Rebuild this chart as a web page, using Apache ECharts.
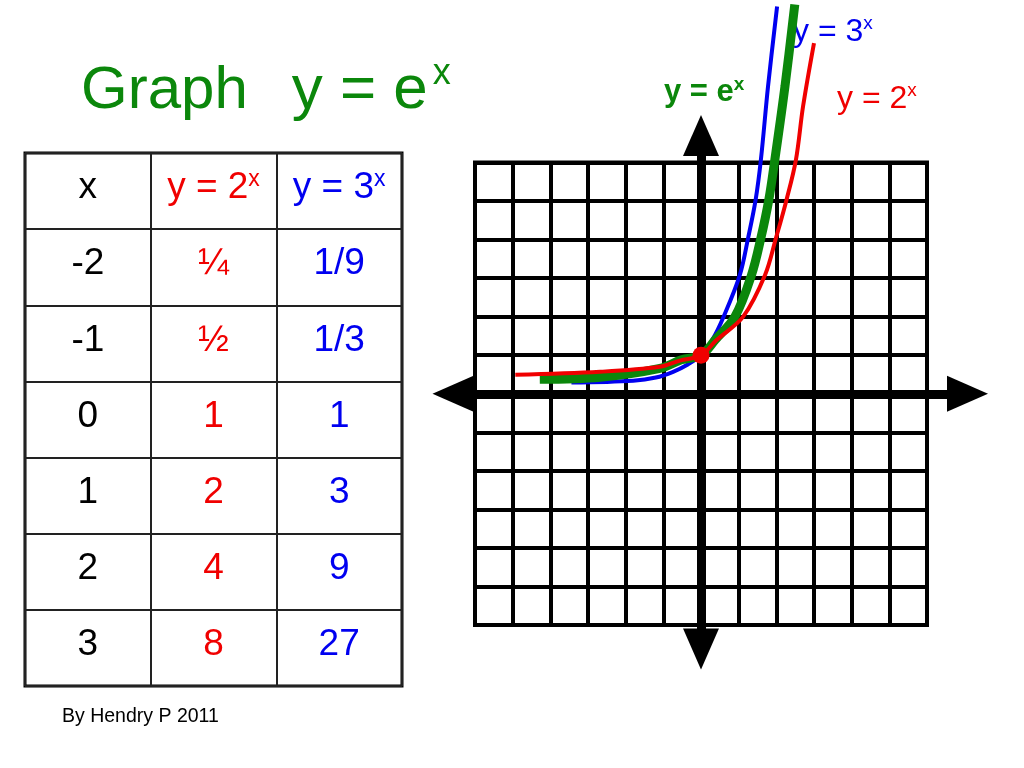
<!DOCTYPE html>
<html>
<head>
<meta charset="utf-8">
<script src="https://cdn.jsdelivr.net/npm/echarts@6/dist/echarts.min.js"></script>
<style>
html,body{margin:0;padding:0;background:#fff;}
#chart{width:1024px;height:768px;}
</style>
</head>
<body>
<div id="chart"></div>
<script>
// ---- data ----
const headerBase = ['x', 'y = 2', 'y = 3'];
const headerSup = ['', 'x', 'x'];
const xValues = ['-2', '-1', '0', '1', '2', '3'];
const pow2Values = ['¼', '½', '1', '2', '4', '8'];
const pow3Values = ['1/9', '1/3', '1', '3', '9', '27'];

// hand-drawn curves (x, y in grid units)
const curve3x = [[-3.44,0.29],[-1.80,0.34],[-1.2,0.42],[-0.74,0.57],[-0.35,0.76],[0,1],[0.30,1.40],[0.60,2.0],[1.03,3.08],[1.25,4.04],[1.45,5.03],[1.59,6.07],[1.78,7.98],[2.02,10.05]];
const curveEx = [[-4.28,0.375],[-2.68,0.43],[-1.09,0.66],[-0.52,0.88],[0,1],[0.38,1.40],[0.90,2.0],[1.34,3.08],[1.59,4.04],[1.80,5.03],[1.96,6.07],[2.23,7.98],[2.49,10.1]];
const curve2x = [[-4.93,0.49],[-2.68,0.57],[-1.09,0.70],[-0.56,0.86],[0,1],[0.42,1.40],[1.12,2.0],[1.70,3.08],[1.99,4.04],[2.27,5.03],[2.52,6.07],[2.71,7.46],[3.0,9.1]];
const keyPoint = [[0, 1]];
const gridTicks = [-6, 6];

// ---- layout ----
const FONT = 'Liberation Sans, Arial, Helvetica, sans-serif';
const RED = '#f00000', BLUE = '#0000f0', GREEN = '#0b870b';
const paper = {left: 475, top: 162.5, width: 452, height: 462.5};
const unitX = paper.width / 12, unitY = paper.height / 12;
const cx = paper.left + paper.width / 2, cy = paper.top + paper.height / 2;
const ax = {left: 453, right: 967.5, top: 135.5, bottom: 649};

const colColors = ['#000', RED, BLUE];
const columns = [xValues, pow2Values, pow3Values];

function tableSeries(ci) {
  const data = [{value: [ci, 0], name: headerSup[ci] ? '{m|' + headerBase[ci] + '}{s|' + headerSup[ci] + '}' : '{m|' + headerBase[ci] + '}'}];
  columns[ci].forEach((t, ri) => data.push({value: [ci, ri + 1], name: '{m|' + t + '}'}));
  return {
    type: 'scatter', xAxisIndex: 0, yAxisIndex: 0, silent: true,
    symbolSize: 1, itemStyle: {color: 'rgba(0,0,0,0)', opacity: 1},
    data: data,
    label: {
      show: true, position: 'inside', offset: [0, -3], opacity: 1,
      formatter: p => p.name,
      rich: {
        m: {fontSize: 37, lineHeight: 40, color: colColors[ci], fontFamily: FONT, fontWeight: 'normal'},
        s: {fontSize: 23, lineHeight: 16, verticalAlign: 'top', color: colColors[ci], fontFamily: FONT, fontWeight: 'normal'}
      }
    }
  };
}

function curveSeries(name, data, color, width, z) {
  return {type: 'line', name: name, xAxisIndex: 1, yAxisIndex: 1, data: data, clip: false,
    smooth: 0.35, showSymbol: false, silent: true,
    lineStyle: {color: color, width: width}, z: z};
}

function supLabel(left, top, text, color, size, lh, supSize, supLh, weight, z) {
  return {left: left, top: top, padding: 0, z: z,
    text: text,
    textStyle: {fontWeight: weight, rich: {
      m: {fontSize: size, lineHeight: lh, color: color, fontFamily: FONT, fontWeight: weight},
      n: {fontSize: size * 1.033, lineHeight: lh, color: color, fontFamily: FONT, fontWeight: weight},
      g: {fontSize: size * 0.88, lineHeight: lh, color: color, fontFamily: FONT, fontWeight: weight},
      h: {fontSize: size * 0.3, lineHeight: lh, color: color, fontFamily: FONT, fontWeight: weight},
      s: {fontSize: supSize, lineHeight: supLh, verticalAlign: 'top', color: color, fontFamily: FONT, fontWeight: weight}
    }}};
}

const option = {
  animation: false,
  backgroundColor: '#fff',
  title: [
    supLabel(81, 56, '{m|Graph}{g|   }{n|y = e}{h| }{s|x}', GREEN, 60, 70, 36, 39, 'normal', 6),
    supLabel(664, 75, '{m|y = e}{s|x}', GREEN, 31, 34, 19, 22, 'bolder', 1),
    supLabel(793, 14, '{m|y = 3}{s|x}', BLUE, 32, 36, 19, 23, 'normal', 1),
    supLabel(837, 81, '{m|y = 2}{s|x}', RED, 32, 36, 19, 23, 'normal', 1),
    {left: 62, top: 706, padding: 0,
     text: 'By Hendry P 2011',
     textStyle: {fontSize: 19.5, lineHeight: 22, fontWeight: 'normal', color: '#000', fontFamily: FONT}}
  ],
  grid: [
    {left: 25, top: 153, width: 377, height: 533, show: true, borderColor: '#000', borderWidth: 3, containLabel: false},
    {left: paper.left, top: paper.top, width: paper.width, height: paper.height, show: true, borderColor: '#000', borderWidth: 4},
    {left: ax.left, top: ax.top, width: ax.right - ax.left, height: ax.bottom - ax.top}
  ],
  xAxis: [
    {gridIndex: 0, type: 'category', data: [0, 1, 2], boundaryGap: true,
     axisLine: {show: false}, axisTick: {show: false}, axisLabel: {show: false, interval: 0},
     splitLine: {show: true, interval: 0, lineStyle: {color: '#222', width: 2}}},
    {gridIndex: 1, type: 'value', min: gridTicks[0], max: gridTicks[1], interval: 1,
     axisLine: {show: false}, axisTick: {show: false}, axisLabel: {show: false},
     splitLine: {show: true, lineStyle: {color: '#000', width: 4}}},
    {gridIndex: 2, type: 'value',
     min: -(cx - ax.left) / unitX, max: (ax.right - cx) / unitX,
     axisLine: {show: true, onZero: true, symbol: ['triangle', 'triangle'], symbolSize: [36, 41],
       lineStyle: {color: '#000', width: 9}},
     axisTick: {show: false}, axisLabel: {show: false}, splitLine: {show: false}}
  ],
  yAxis: [
    {gridIndex: 0, type: 'category', data: [0, 1, 2, 3, 4, 5, 6], inverse: true, boundaryGap: true,
     axisLine: {show: false}, axisTick: {show: false}, axisLabel: {show: false, interval: 0},
     splitLine: {show: true, interval: 0, lineStyle: {color: '#222', width: 2}}},
    {gridIndex: 1, type: 'value', min: gridTicks[0], max: gridTicks[1], interval: 1,
     axisLine: {show: false}, axisTick: {show: false}, axisLabel: {show: false},
     splitLine: {show: true, lineStyle: {color: '#000', width: 4}}},
    {gridIndex: 2, type: 'value',
     min: -(ax.bottom - cy) / unitY, max: (cy - ax.top) / unitY,
     axisLine: {show: true, onZero: true, symbol: ['triangle', 'triangle'], symbolSize: [36, 41],
       lineStyle: {color: '#000', width: 9}},
     axisTick: {show: false}, axisLabel: {show: false}, splitLine: {show: false}}
  ],
  series: [
    tableSeries(0), tableSeries(1), tableSeries(2),
    curveSeries('y = 3^x', curve3x, BLUE, 4, 3),
    curveSeries('y = e^x', curveEx, GREEN, 9, 4),
    curveSeries('y = 2^x', curve2x, RED, 4, 5),
    {type: 'scatter', xAxisIndex: 1, yAxisIndex: 1, data: keyPoint, silent: true,
     symbolSize: 17, itemStyle: {color: RED, opacity: 1}, z: 6}
  ]
};

const chart = echarts.init(document.getElementById('chart'), null, {renderer: 'canvas'});
chart.setOption(option);
</script>
</body>
</html>
